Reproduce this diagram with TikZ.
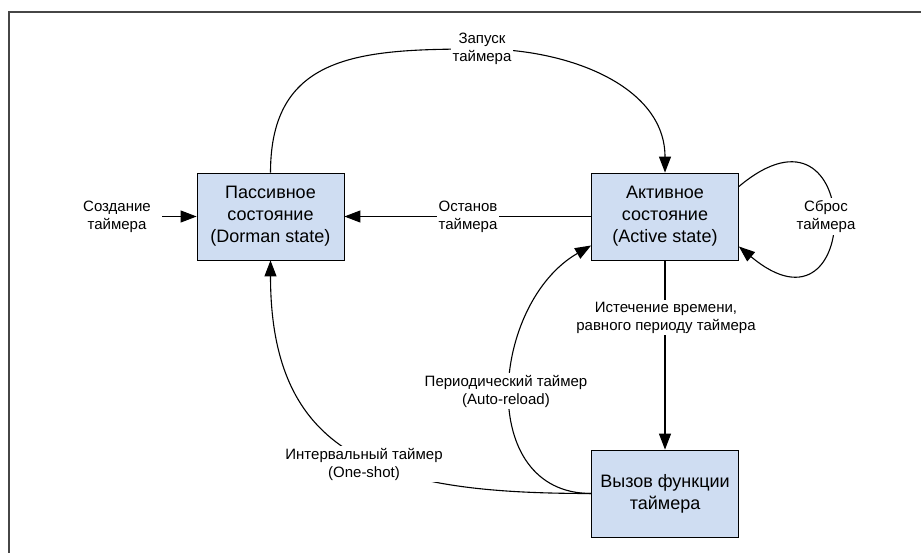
\documentclass[tikz,border=0pt]{standalone}
\usepackage{fontspec}
\setmainfont{Liberation Sans}
\usetikzlibrary{arrows.meta}

\definecolor{stateblue}{RGB}{207,221,242}
\definecolor{framegray}{RGB}{70,70,70}

\begin{document}
\begin{tikzpicture}[x=1pt, y=1pt,
    state/.style={draw=black, fill=stateblue, line width=0.8pt,
        minimum width=147pt, minimum height=87pt, align=center,
        font=\fontsize{18}{22}\selectfont},
    lbl/.style={fill=white, inner sep=2pt, align=center,
        font=\fontsize{15}{18}\selectfont},
    conn/.style={line width=1.1pt, -{Triangle[length=16pt, width=12pt]}}]
    \useasboundingbox (0,0) rectangle (921,552);
    % Frame
    \draw[framegray, line width=1.6pt] (9,-2) -- (9,540) -- (923,540);

    % States
    \node[state] (passive) at (270.5,335.5) {Пассивное\\состояние\\(Dorman state)};
    \node[state] (active) at (665,335.5) {Активное\\состояние\\(Active state)};
    \node[state] (callback) at (665,58.5) {Вызов функции\\таймера};

    % Free ends and bends
    \coordinate (create) at (162,335.5);
    \coordinate (starttop) at (482,503);

    % Transitions
    \draw[conn] (create) -- (passive);
    \draw[conn] (active) -- (passive);
    \draw[conn] (passive.north) to[out=90, in=180, looseness=1.25] (starttop)
        to[out=0, in=90] (active.north);
    \draw[conn] ([yshift=30pt]active.east) to[out=40, in=-40, looseness=7]
        ([yshift=-30pt]active.east);
    \draw[conn] (active) -- (callback);
    \draw[conn] (callback.west) to[out=180, in=210, looseness=1.2]
        ([yshift=-29pt]active.west);
    \draw[conn] (callback.west) to[out=180, in=-90, looseness=1.3]
        (passive.south);

    % Labels
    \node[lbl, fill=none] (createlbl) at (117,335.5) {Создание\\таймера};
    \node[lbl] (stop) at (468,335.5) {Останов\\таймера};
    \node[lbl] (start) at (starttop) {Запуск\\таймера};
    \node[lbl] (reset) at (826,335.5) {Сброс\\таймера};
    \node[lbl] (expire) at (666,234.5) {Истечение времени,\\равного периоду таймера};
    \node[lbl] (periodic) at (506,161) {Периодический таймер\\(Auto-reload)};
    \node[lbl] (oneshot) at (364,88) {Интервальный таймер\\(One-shot)};
\end{tikzpicture}
\end{document}
